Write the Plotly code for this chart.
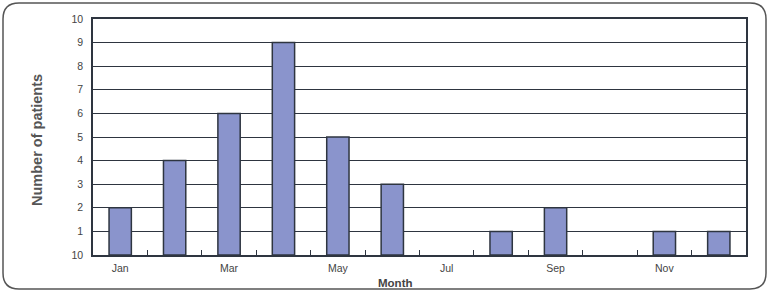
import plotly.graph_objects as go

months = ["Jan", "Feb", "Mar", "Apr", "May", "Jun", "Jul", "Aug", "Sep", "Oct", "Nov", "Dec"]
patients = [2, 4, 6, 9, 5, 3, 0, 1, 2, 0, 1, 1]
y_tickvals = list(range(0, 11))
y_ticktext = ["10", "1", "2", "3", "4", "5", "6", "7", "8", "9", "10"]

W, H = 770, 293
L, R, T, B = 93, 746, 19, 255
pw, ph = R - L, B - T

def px(x):
    return (x - L) / pw

def py(y):
    return (B - y) / ph

xs = list(range(len(months)))
bar_y = [v if v > 0 else None for v in patients]

fig = go.Figure()
fig.add_trace(go.Bar(
    x=xs, y=bar_y, width=0.41,
    marker=dict(color="#8A94CC", line=dict(color="#2E3540", width=1.5)),
))

# rounded border around the whole figure
x0, y0, x1, y1, r = 3, 3, 766, 289, 16
path = (
    f"M {px(x0 + r)},{py(y0)} L {px(x1 - r)},{py(y0)} "
    f"Q {px(x1)},{py(y0)} {px(x1)},{py(y0 + r)} "
    f"L {px(x1)},{py(y1 - r)} Q {px(x1)},{py(y1)} {px(x1 - r)},{py(y1)} "
    f"L {px(x0 + r)},{py(y1)} Q {px(x0)},{py(y1)} {px(x0)},{py(y1 - r)} "
    f"L {px(x0)},{py(y0 + r)} Q {px(x0)},{py(y0)} {px(x0 + r)},{py(y0)} Z"
)
fig.add_shape(type="path", path=path, xref="paper", yref="paper",
              line=dict(color="#555555", width=1.5), layer="below")

fig.update_layout(
    width=W, height=H,
    margin=dict(l=L, r=W - R, t=T, b=H - B),
    paper_bgcolor="white", plot_bgcolor="white",
    showlegend=False,
    font=dict(family="Liberation Sans, Arial, sans-serif", size=10, color="#444"),
    xaxis=dict(
        range=[-0.5, len(months) - 0.5],
        tickmode="array", tickvals=xs[::2], ticktext=months[::2],
        ticks="", showgrid=False, zeroline=False,
        showline=True, linecolor="#2E3540", linewidth=1.5, mirror=True,
        tickfont=dict(size=10.5, color="#444"),
        ticklabelstandoff=3,
        minor=dict(tickmode="array", tickvals=[i + 0.5 for i in xs[:-1]],
                   ticks="inside", ticklen=5, tickcolor="#2E3540", tickwidth=1, showgrid=False),
        fixedrange=True,
    ),
    yaxis=dict(
        range=[0, 10],
        tickmode="array", tickvals=y_tickvals, ticktext=y_ticktext,
        ticks="", showgrid=True, gridcolor="#2E3540", gridwidth=1,
        zeroline=False,
        showline=True, linecolor="#2E3540", linewidth=1.5, mirror=True,
        tickfont=dict(size=10.5, color="#444"),
        ticklabelstandoff=6,
    ),
    annotations=[
        dict(text="<b>Number of patients</b>", x=px(37), y=py(140), xref="paper", yref="paper",
             textangle=-90, showarrow=False, font=dict(size=14.5, color="#555"),
             xanchor="center", yanchor="middle"),
        dict(text="<b>Month</b>", x=px(395), y=py(283), xref="paper", yref="paper",
             showarrow=False, font=dict(size=11.5, color="#444"),
             xanchor="center", yanchor="middle"),
    ],
)

fig.write_html("out.html")
